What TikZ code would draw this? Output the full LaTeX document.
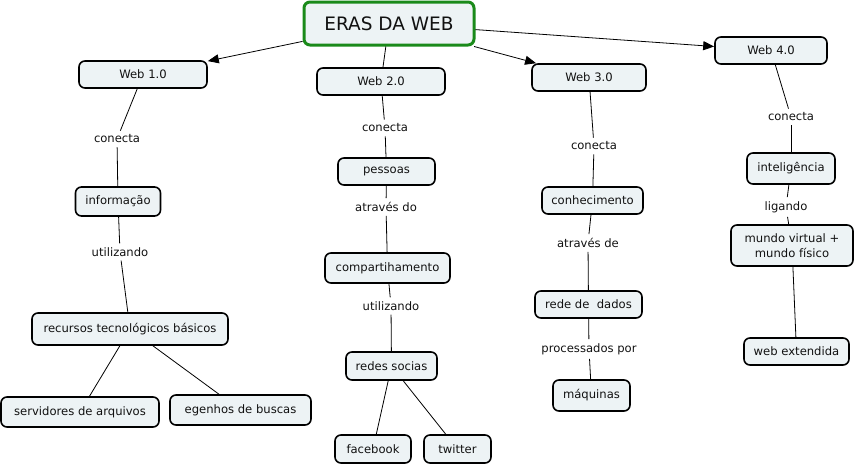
\documentclass[tikz,border=0pt]{standalone}
\usepackage{fontspec}
\setmainfont{DejaVu Sans}
\usetikzlibrary{arrows.meta}
\definecolor{boxfill}{HTML}{EDF3F5}
\definecolor{erasgreen}{HTML}{1A8A1A}
\definecolor{txt}{HTML}{111111}

\begin{document}
\begin{tikzpicture}[x=1pt, y=-1pt,
		cbox/.style={draw, rounded corners=6pt, line width=1.6pt, fill=boxfill, text=txt,
			minimum height=27pt, inner sep=3pt, font=\fontsize{11.6}{13.5}\selectfont},
		lbl/.style={inner sep=4pt, text=txt, font=\fontsize{11.6}{13.5}\selectfont},
		link/.style={line width=0.8pt},
		arr/.style={line width=0.8pt, -{Triangle[length=11pt,width=9pt]}}]
	\useasboundingbox (0,0) rectangle (854,466);

	% centre
	\node[cbox, draw=erasgreen, line width=3pt, minimum width=170pt, minimum height=43pt,
		font=\fontsize{18.5}{22}\selectfont] (eras) at (389,23.5) {ERAS DA WEB};

	% Web 1.0
	\node[cbox, minimum width=128pt] (web1) at (143,74.5) {Web 1.0};
	\node[lbl] (con1) at (117,139) {conecta};
	\node[cbox, minimum width=85pt, minimum height=29pt] (info) at (118,201.5) {informação};
	\node[lbl] (uti1) at (120,252) {utilizando};
	\node[cbox, minimum width=196pt, minimum height=32pt] (recursos) at (130,329) {recursos tecnológicos básicos};
	\node[cbox, minimum width=158pt, minimum height=30pt] (serv) at (80,412) {servidores de arquivos};
	\node[cbox, minimum width=141pt, minimum height=30pt] (busca) at (240.5,410) {egenhos de buscas};

	% Web 2.0
	\node[cbox, minimum width=128pt] (web2) at (381,81.5) {Web 2.0};
	\node[lbl] (con2) at (385,128) {conecta};
	\node[cbox, minimum width=97pt] (pessoas) at (386.5,171.5) {pessoas};
	\node[lbl] (atr2) at (386,207) {através do};
	\node[cbox, minimum width=125pt, minimum height=30pt] (compart) at (387.5,268) {compartihamento};
	\node[lbl] (uti2) at (391,306) {utilizando};
	\node[cbox, minimum width=91pt, minimum height=28pt] (redes) at (391.5,366) {redes socias};
	\node[cbox, minimum width=76pt, minimum height=28pt] (face) at (373,449) {facebook};
	\node[cbox, minimum width=67pt, minimum height=28pt] (twit) at (457.5,449) {twitter};

	% Web 3.0
	\node[cbox, minimum width=114pt] (web3) at (589,77.5) {Web 3.0};
	\node[lbl] (con3) at (594,146) {conecta};
	\node[cbox, minimum width=101pt] (conhec) at (592.5,200.5) {conhecimento};
	\node[lbl] (atr3) at (588,243) {através de};
	\node[cbox, minimum width=107pt] (rede) at (588.5,304.5) {rede de\ \ dados};
	\node[lbl] (proc) at (589,349) {processados por};
	\node[cbox, minimum width=77pt, minimum height=31pt] (maq) at (591.5,395.5) {máquinas};

	% Web 4.0
	\node[cbox, minimum width=112pt] (web4) at (771,50.5) {Web 4.0};
	\node[lbl] (con4) at (791,117) {conecta};
	\node[cbox, minimum width=88pt, minimum height=31pt] (intel) at (791,168.5) {inteligência};
	\node[lbl] (lig) at (786,207) {ligando};
	\node[cbox, minimum width=122pt, minimum height=41pt, align=center,
		font=\fontsize{11.6}{15.5}\selectfont] (mundo) at (792,245.5) {mundo virtual +\\mundo físico};
	\node[cbox, minimum width=105pt] (ext) at (796.5,351.5) {web extendida};

	% ligações
	\draw[arr] (eras) -- (web1);
	\draw[link] (eras) -- (web2);
	\draw[arr] (eras) -- (web3);
	\draw[arr] (eras) -- (web4);

	\draw[link] (web1) -- (con1);
	\draw[link] (con1) -- (info);
	\draw[link] (info) -- (uti1);
	\draw[link] (uti1) -- (recursos);
	\draw[link] (recursos) -- (serv);
	\draw[link] (recursos) -- (busca);

	\draw[link] (web2) -- (con2);
	\draw[link] (con2) -- (pessoas);
	\draw[link] (pessoas) -- (atr2);
	\draw[link] (atr2) -- (compart);
	\draw[link] (compart) -- (uti2);
	\draw[link] (uti2) -- (redes);
	\draw[link] (redes) -- (face);
	\draw[link] (redes) -- (twit);

	\draw[link] (web3) -- (con3);
	\draw[link] (con3) -- (conhec);
	\draw[link] (conhec) -- (atr3);
	\draw[link] (atr3) -- (rede);
	\draw[link] (rede) -- (proc);
	\draw[link] (proc) -- (maq);

	\draw[link] (web4) -- (con4);
	\draw[link] (con4) -- (intel);
	\draw[link] (intel) -- (lig);
	\draw[link] (lig) -- (mundo);
	\draw[link] (mundo) -- (ext);
\end{tikzpicture}
\end{document}
